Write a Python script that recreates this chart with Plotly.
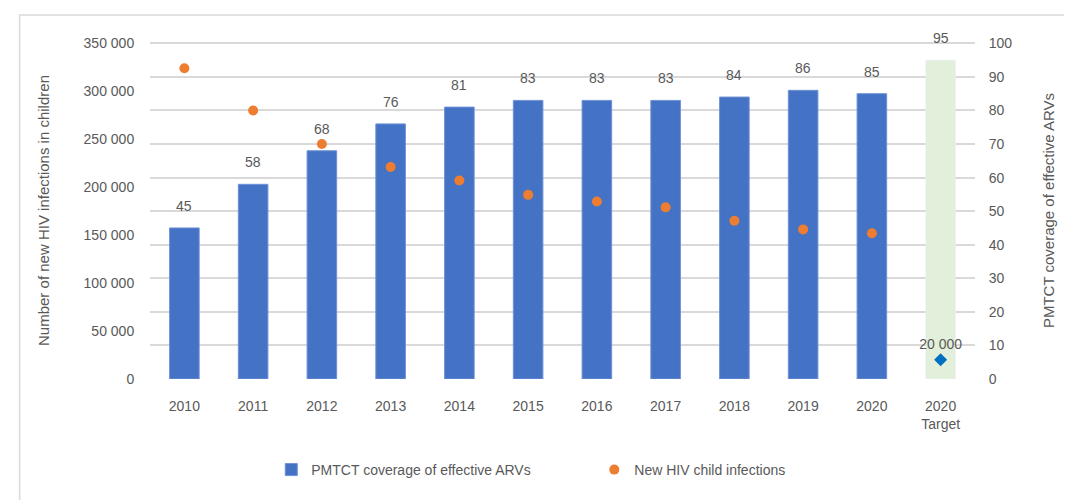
import plotly.graph_objects as go

# data
years = ["2010", "2011", "2012", "2013", "2014", "2015", "2016", "2017", "2018", "2019", "2020"]
coverage = [45, 58, 68, 76, 81, 83, 83, 83, 84, 86, 85]
new_infections = [324000, 280000, 245000, 221000, 207000, 192000, 185000, 179000, 165000, 156000, 152000]
target_label = "2020<br>Target"
target_coverage = [95]
target_infections = [20000]

font_family = "Liberation Sans Narrow, Liberation Sans, Arial, sans-serif"
grey_text = "#595959"
pad = 1.004  # tiny headroom so the top gridline shows

categories = years + [target_label]

fig = go.Figure()

# bars (coverage, right axis)
fig.add_trace(go.Bar(
    x=years,
    y=coverage,
    name="PMTCT coverage of effective ARVs",
    marker=dict(color="#4472C4", line=dict(color="#6F91D6", width=1)),
    width=0.43,
    yaxis="y",
))

fig.add_trace(go.Bar(
    x=[target_label],
    y=target_coverage,
    marker_color="#E2EFDA",
    width=0.43,
    showlegend=False,
    yaxis="y",
))

# dots (new infections, left axis)
fig.add_trace(go.Scatter(
    x=years,
    y=new_infections,
    mode="markers",
    name="New HIV child infections",
    marker=dict(color="#ED7D31", size=10),
    yaxis="y2",
))

fig.add_trace(go.Scatter(
    x=[target_label],
    y=target_infections,
    mode="markers+text",
    marker=dict(color="#0070C0", size=10, symbol="diamond"),
    text=[f"{v:,}".replace(",", " ") for v in target_infections],
    textposition="top center",
    textfont=dict(size=14, color=grey_text, family=font_family),
    showlegend=False,
    yaxis="y2",
))

# data labels above the bars (category index positions)
for i, val in enumerate(coverage + target_coverage):
    fig.add_annotation(
        x=i, y=val, xref="x", yref="y",
        text=str(val), showarrow=False,
        yshift=22,
        font=dict(size=14, color=grey_text, family=font_family),
    )

# light frame around the chart
fig.add_shape(
    type="rect", xref="paper", yref="paper",
    x0=-0.158, x1=1.2, y0=-0.5, y1=1.08,
    line=dict(color="#D9D9D9", width=1.5),
)

fig.update_layout(
    width=1072,
    height=500,
    margin=dict(l=142, r=105, t=34, b=129),
    paper_bgcolor="white",
    plot_bgcolor="white",
    barmode="overlay",
    separators=". ",
    font=dict(family=font_family, size=14, color=grey_text),
    showlegend=True,
    legend=dict(
        orientation="h",
        x=0.147, xanchor="left",
        y=-0.27, yanchor="middle",
        entrywidth=278,
        font=dict(size=14, color=grey_text),
        traceorder="normal",
    ),
    xaxis=dict(
        type="category",
        categoryorder="array",
        categoryarray=categories,
        range=[-0.5, len(categories) - 0.5],
        tickfont=dict(size=14, color=grey_text),
        showline=False,
        showgrid=False,
        ticks="outside",
        ticklen=14,
        tickcolor="rgba(0,0,0,0)",
    ),
    yaxis=dict(
        side="right",
        range=[0, 100 * pad],
        tickvals=list(range(0, 101, 10)),
        showgrid=True,
        gridcolor="#D9D9D9",
        gridwidth=1.5,
        zeroline=False,
        ticks="outside",
        ticklen=10,
        tickcolor="rgba(0,0,0,0)",
        tickfont=dict(size=14, color=grey_text),
        title=dict(text="PMTCT coverage of effective ARVs", standoff=32,
                   font=dict(size=15, color=grey_text)),
    ),
    yaxis2=dict(
        overlaying="y",
        side="left",
        range=[0, 350000 * pad],
        tickvals=list(range(0, 350001, 50000)),
        tickformat=",d",
        showgrid=False,
        zeroline=False,
        ticks="outside",
        ticklen=12,
        tickcolor="rgba(0,0,0,0)",
        tickfont=dict(size=14, color=grey_text),
        title=dict(text="Number of new HIV infections in children", standoff=30,
                   font=dict(size=15, color=grey_text)),
    ),
)

fig.write_html("out.html")
